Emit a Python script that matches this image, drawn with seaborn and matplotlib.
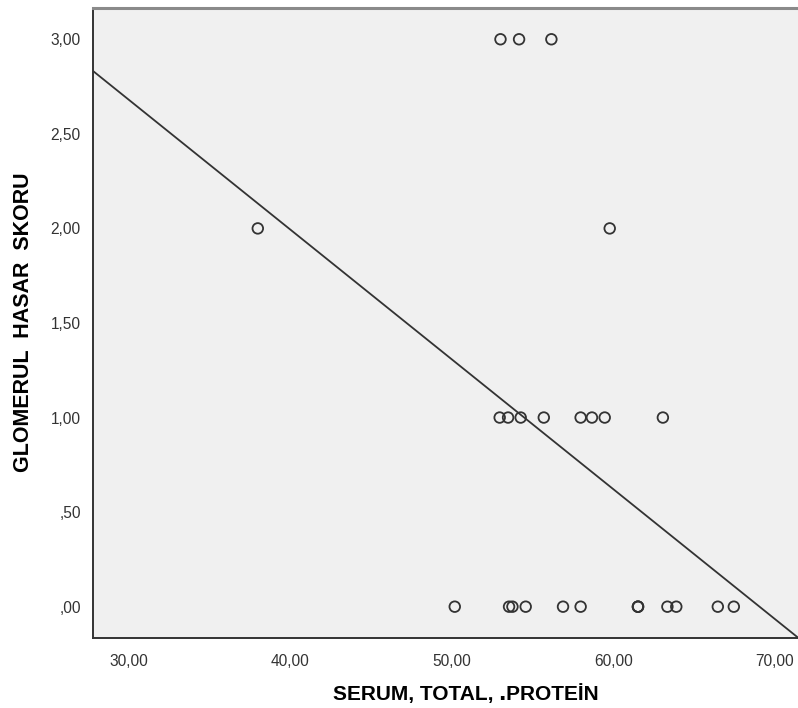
import matplotlib
matplotlib.use("Agg")
import matplotlib.pyplot as plt
import seaborn as sns
import pandas as pd

# Serum total protein (g/L) and glomerular damage score per animal
protein = [53.02, 54.17, 56.17,
           38.00, 59.78,
           52.97, 53.49, 54.27, 55.70, 57.98, 58.68, 59.47, 63.07,
           50.19, 53.55, 53.76, 54.58, 56.89, 57.98, 61.53, 61.53, 61.53,
           63.35, 63.90, 66.47, 67.46]
score = [3, 3, 3,
         2, 2,
         1, 1, 1, 1, 1, 1, 1, 1,
         0, 0, 0, 0, 0, 0, 0, 0, 0,
         0, 0, 0, 0]

x_ticks = [30, 40, 50, 60, 70]
x_tick_labels = ["30,00", "40,00", "50,00", "60,00", "70,00"]
y_ticks = [0.0, 0.5, 1.0, 1.5, 2.0, 2.5, 3.0]
y_tick_labels = [",00", ",50", "1,00", "1,50", "2,00", "2,50", "3,00"]

x_label = "SERUM\u201a TOTAL\u201a \u2024PROTEİN"
y_label = "GLOMERUL  HASAR  SKORU"

df = pd.DataFrame({"protein": protein, "score": score})

sns.set_style("white")
plt.rcParams["font.family"] = ["Liberation Sans", "DejaVu Sans"]

ink = "#333333"
fig = plt.figure(figsize=(7.98, 7.08), dpi=100)
W, H = 798, 708
left, right, top, bottom = 93.3, 839.0, 7.5, 637.7
ax = fig.add_axes([left / W, (H - bottom) / H, (right - left) / W, (bottom - top) / H])
ax.set_facecolor("#F0F0F0")

ax.set_xlim(27.82, 73.97)
ax.set_ylim(-0.164, 3.168)

# Least-squares fit line across the whole axis
sns.regplot(data=df, x="protein", y="score", ax=ax, scatter=False, ci=None,
            truncate=False, line_kws={"color": ink, "linewidth": 1.3})

sns.scatterplot(data=df, x="protein", y="score", ax=ax, s=58,
                facecolors="none", edgecolor=ink, linewidth=1.3, zorder=3)

ax.set_xlim(27.82, 73.97)
ax.set_ylim(-0.164, 3.168)

ax.set_xticks(x_ticks)
ax.set_xticklabels(x_tick_labels)
ax.set_yticks(y_ticks)
ax.set_yticklabels(y_tick_labels)
ax.tick_params(axis="both", direction="out", length=7.5, width=1.2,
               color=ink, labelcolor=ink, labelsize=11.2)
ax.tick_params(axis="y", pad=1.5)
ax.tick_params(axis="x", pad=4)

for side in ("left", "bottom"):
    ax.spines[side].set_color(ink)
    ax.spines[side].set_linewidth(1.4)
ax.spines["top"].set_color("#8a8a8a")
ax.spines["top"].set_linewidth(2.2)
ax.spines["right"].set_visible(False)

ax.set_xlabel(x_label, fontsize=15, fontweight="bold", color="black", labelpad=11)
ax.set_ylabel(y_label, fontsize=15.5, fontweight="bold", color="black", labelpad=12)

fig.savefig("out.png", dpi=100, facecolor="white")
